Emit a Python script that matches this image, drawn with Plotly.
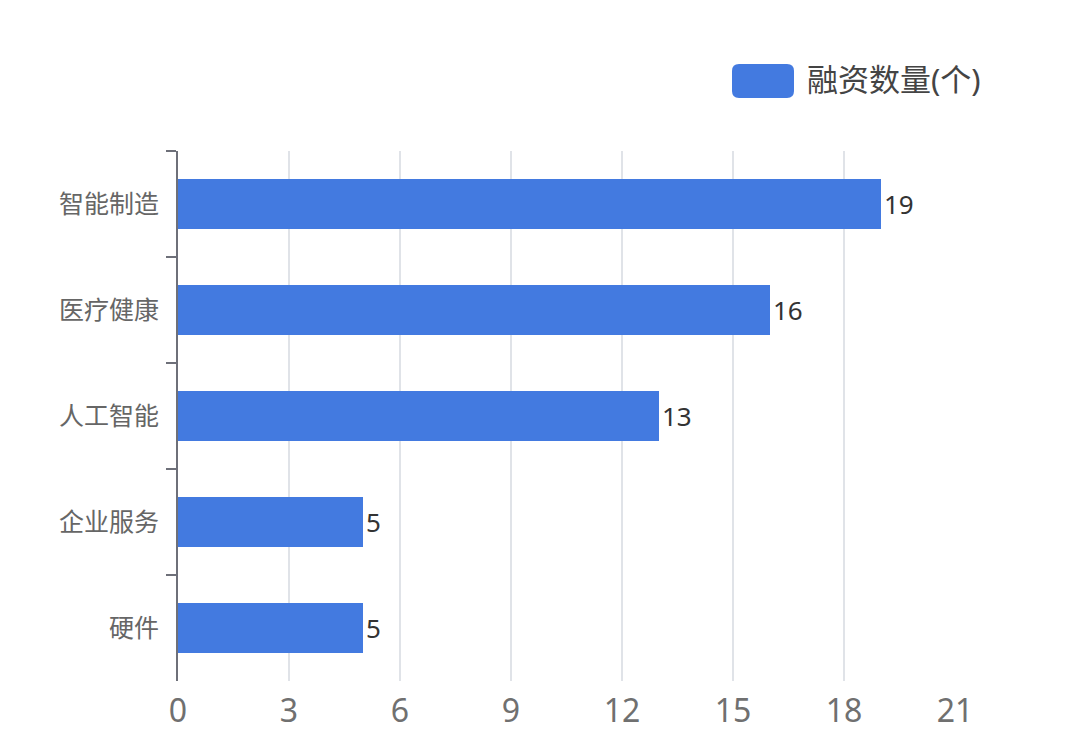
import plotly.graph_objects as go

# Data
categories = ["智能制造", "医疗健康", "人工智能", "企业服务", "硬件"]
counts = [19, 16, 13, 5, 5]
series_name = "融资数量(个)"
x_ticks = [0, 3, 6, 9, 12, 15, 18, 21]

bar_color = "#437AE0"
font_family = "Noto Sans, Noto Sans CJK SC, sans-serif"

# plot area in figure pixels (page has ~7px body offset)
L, R, T, B = 170, 133, 143, 80
PW, PH = 1080 - L - R, 753 - T - B


def px(x):
    return (x - 7 - L) / PW


def py(y):
    return (753 - B - (y - 7)) / PH


fig = go.Figure()

fig.add_trace(go.Bar(
    y=categories,
    x=counts,
    orientation="h",
    name=series_name,
    marker=dict(color=bar_color, line=dict(width=0)),
    text=counts,
    textposition="outside",
    textfont=dict(size=26, color="#333333", family=font_family),
    cliponaxis=False,
    showlegend=False,
))

# Legend drawn by hand so the swatch matches the big rounded box
x0, x1, y0, y1 = px(731), px(793), py(97), py(63)
rx, ry = 7 / PW, 7 / PH
fig.add_shape(
    type="path",
    xref="paper", yref="paper",
    path=(f"M {x0+rx} {y1} L {x1-rx} {y1} Q {x1} {y1} {x1} {y1-ry} "
          f"L {x1} {y0+ry} Q {x1} {y0} {x1-rx} {y0} L {x0+rx} {y0} "
          f"Q {x0} {y0} {x0} {y0+ry} L {x0} {y1-ry} Q {x0} {y1} {x0+rx} {y1} Z"),
    fillcolor=bar_color,
    line=dict(width=0),
)

fig.add_annotation(
    xref="paper", yref="paper",
    x=px(804), y=py(78),
    xanchor="left", yanchor="middle",
    text=series_name,
    showarrow=False,
    font=dict(size=31, color="#444444", family=font_family),
)

fig.update_layout(
    width=1080,
    height=753,
    margin=dict(l=L, r=R, t=T, b=B),
    paper_bgcolor="white",
    plot_bgcolor="white",
    font=dict(family=font_family),
    bargap=0.53,
    xaxis=dict(
        range=[0, 21],
        tickvals=x_ticks,
        showgrid=True,
        gridcolor="#E0E3E8",
        gridwidth=2,
        zeroline=False,
        showline=False,
        ticks="",
        tickfont=dict(size=32, color="#707070"),
        ticklabelstandoff=8,
    ),
    yaxis=dict(
        categoryorder="array",
        categoryarray=categories,
        autorange="reversed",
        showline=True,
        linecolor="#6E7079",
        linewidth=2,
        ticks="outside",
        tickson="boundaries",
        ticklen=10,
        tickwidth=2,
        tickcolor="#6E7079",
        showgrid=False,
        tickfont=dict(size=25, color="#666666"),
        ticklabelstandoff=12,
    ),
)

fig.write_html("out.html")
